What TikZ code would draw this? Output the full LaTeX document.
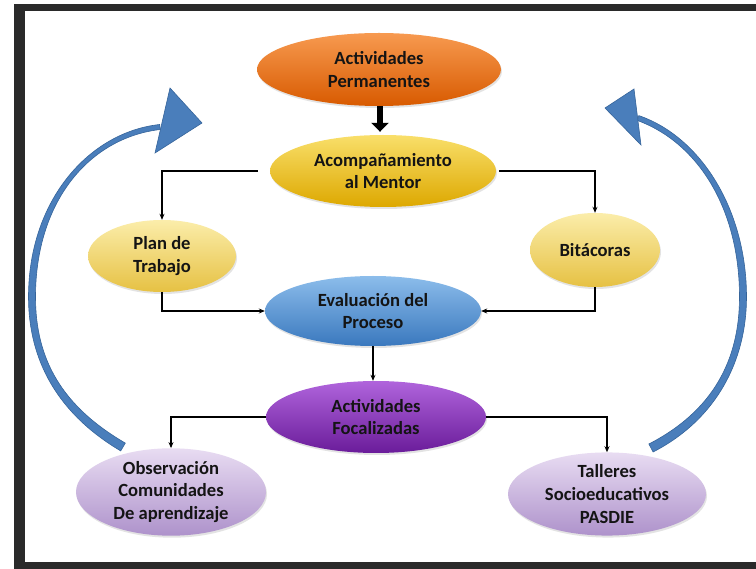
\documentclass[tikz,border=0pt]{standalone}
\usepackage{fontspec}
\setmainfont{Carlito}
\usetikzlibrary{shapes.geometric,arrows.meta,shadows}
\definecolor{framec}{HTML}{2A2A2A}
\definecolor{txt}{HTML}{141414}
\definecolor{arrblue}{HTML}{4A7EBB}
\definecolor{arredge}{HTML}{35649A}
\definecolor{orT}{HTML}{F79A50}\definecolor{orM}{HTML}{F26A0C}\definecolor{orB}{HTML}{D85A00}
\definecolor{gdT}{HTML}{F9DF6A}\definecolor{gdM}{HTML}{F2C417}\definecolor{gdB}{HTML}{DDA800}
\definecolor{lyT}{HTML}{FBEDAA}\definecolor{lyM}{HTML}{F5DA68}\definecolor{lyB}{HTML}{E6C143}
\definecolor{blT}{HTML}{8CBDEB}\definecolor{blM}{HTML}{5599D8}\definecolor{blB}{HTML}{3A78BE}
\definecolor{puT}{HTML}{B064DC}\definecolor{puM}{HTML}{8A2FC0}\definecolor{puB}{HTML}{6A1C9A}
\definecolor{lvT}{HTML}{E8DCF2}\definecolor{lvM}{HTML}{C9B1DE}\definecolor{lvB}{HTML}{AE92CB}
\begin{document}
\begin{tikzpicture}[x=1pt,y=-1pt,
  ell/.style={ellipse, inner sep=0pt, text=txt, align=center,
    font=\fontsize{18.6}{22.8}\selectfont\bfseries,
    drop shadow={opacity=0.22, shadow xshift=1pt, shadow yshift=-2pt}},
  conn/.style={line width=1.8pt, -{Stealth[length=6pt,width=5pt]}},
  bigarrow/.style={fill=arrblue, draw=arredge, line width=0.6pt}]
\useasboundingbox (0,0) rectangle (756,569);
\fill[white] (0,0) rectangle (756,569);
% frame
\fill[framec] (14,4) rectangle (756,11);
\fill[framec] (14,4) rectangle (25,569);
\fill[framec] (14,562) rectangle (756,569);

% nodes
\node[ell, minimum width=244pt, minimum height=73pt,
  top color=orT, middle color=orM, bottom color=orB]
  (perm) at (379,69.5) {Actividades\\Permanentes};
\node[ell, minimum width=226pt, minimum height=72pt,
  top color=gdT, middle color=gdM, bottom color=gdB]
  (acomp) at (383,171) {Acompañamiento\\al Mentor};
\node[ell, minimum width=148pt, minimum height=72pt,
  top color=lyT, middle color=lyM, bottom color=lyB]
  (plan) at (162,256) {Plan de\\Trabajo};
\node[ell, minimum width=130pt, minimum height=74pt,
  top color=lyT, middle color=lyM, bottom color=lyB]
  (bita) at (595,250) {Bitácoras};
\node[ell, minimum width=216pt, minimum height=70pt,
  top color=blT, middle color=blM, bottom color=blB]
  (eval) at (373,311) {Evaluación del\\Proceso};
\node[ell, minimum width=220pt, minimum height=72pt,
  top color=puT, middle color=puM, bottom color=puB]
  (foc) at (376,417) {Actividades\\Focalizadas};
\node[ell, minimum width=190pt, minimum height=76pt,
  top color=lvT, middle color=lvM, bottom color=lvB]
  (obs) at (171,492) {Observación\\Comunidades\\De aprendizaje};
\node[ell, minimum width=198pt, minimum height=76pt,
  top color=lvT, middle color=lvM, bottom color=lvB]
  (tall) at (607,494) {Talleres\\Socioeducativos\\PASDIE};

% thick arrow
\draw[line width=6pt, -{Triangle[length=9pt,width=17pt]}, shorten >=3pt]
  (perm.south -| 380,0) -- (acomp.north -| 380,0);

% connectors
\draw[conn] ([xshift=-12pt]acomp.west) -| (plan.north);
\draw[conn] ([xshift=3pt]acomp.east) -| (bita.north);
\draw[conn] (plan.south) |- (eval.west);
\draw[conn] (bita.south) |- (eval.east);
\draw[conn] (eval.south) -- (eval.south |- foc.north);
\draw[conn] (foc.west) -| (obs.north);
\draw[conn] (foc.east) -| (tall.north);

% left curved arrow
\fill[bigarrow] (120.7,450.9) .. controls (57.5,413.5) and (28.5,360) .. (28.5,297)
  .. controls (28.5,200) and (89.5,132) .. (159.7,124.5)
  -- (160.3,129.5) .. controls (90.5,137.5) and (35.5,200) .. (35.5,297)
  .. controls (35.5,360) and (62.5,406.5) .. (125.3,443.1) -- cycle;
\filldraw[bigarrow] (170,88) -- (202,123) -- (155,153) -- cycle;

% right curved arrow
\fill[bigarrow] (653.1,452) .. controls (717,419) and (746.5,360) .. (746.5,297)
  .. controls (746.5,210) and (701,137) .. (638.8,115.6)
  -- (637.2,120.4) .. controls (699,143) and (739.5,210) .. (739.5,297)
  .. controls (739.5,360) and (713,411) .. (648.9,444) -- cycle;
\filldraw[bigarrow] (634,89) -- (605,108) -- (641,145) -- cycle;
\end{tikzpicture}
\end{document}
